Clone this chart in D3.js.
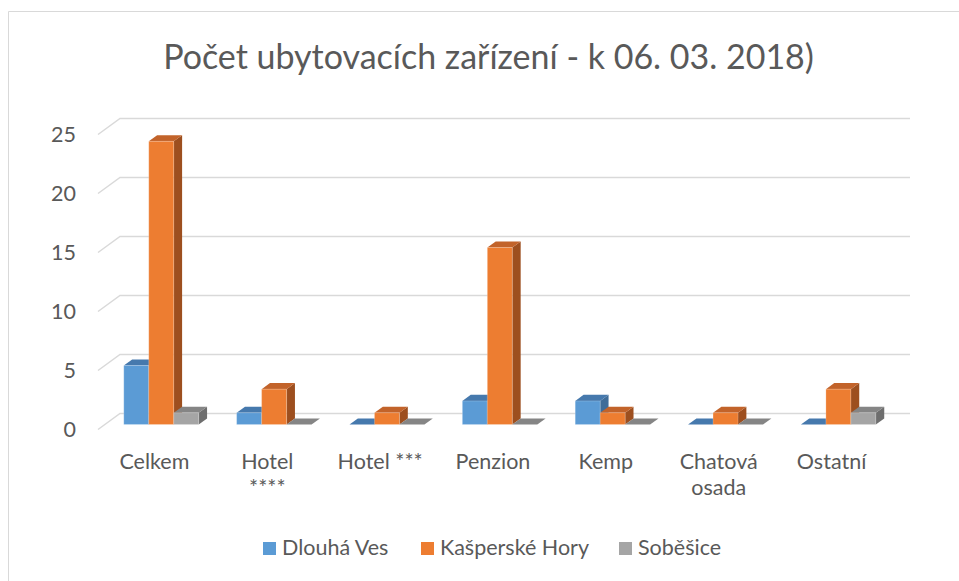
<!DOCTYPE html>
<html>
<head>
<meta charset="utf-8">
<script src="https://cdn.jsdelivr.net/npm/d3@7"></script>
<style>
  body { margin: 0; background: #fff; }
  text { font-family: Lato, "Open Sans", sans-serif; fill: #595959; }
</style>
</head>
<body>
<div id="chart"></div>
<script>
const categories = ["Celkem", "Hotel ****", "Hotel ***", "Penzion", "Kemp", "Chatová osada", "Ostatní"];
const categoryLines = [["Celkem"], ["Hotel", "****"], ["Hotel ***"], ["Penzion"], ["Kemp"], ["Chatová", "osada"], ["Ostatní"]];
const seriesNames = ["Dlouhá Ves", "Kašperské Hory", "Soběšice"];
const dlouhaVes = [5, 1, 0, 2, 2, 0, 0];
const kasperskeHory = [24, 3, 1, 15, 1, 1, 3];
const sobesice = [1, 0, 0, 0, 0, 0, 1];
const yTicks = [0, 5, 10, 15, 20, 25];
const title = "Počet ubytovacích zařízení - k 06. 03. 2018)";

const width = 959, height = 581;
const colors = ["#5B9BD5", "#ED7D31", "#A5A5A5"];
const tops = ["#4679ad", "#c2632a", "#858585"];
const sides = ["#3f6d99", "#9d4f1f", "#6e6e6e"];

// floor front edge starts at (98, 429.5); depth runs to back wall (+22, -16)
const x0 = 98, yFloor = 429.5, depthX = 22, depthY = -16;
const barD0 = 0.31, barD1 = 0.69;

const svg = d3.select("#chart").append("svg")
    .attr("width", width)
    .attr("height", height);

// chart area border (top + left visible)
svg.append("path")
    .attr("d", "M8.5,581 L8.5,11.5 L959,11.5")
    .attr("fill", "none")
    .attr("stroke", "#d9d9d9")
    .attr("stroke-width", 1);

const x = d3.scaleBand()
    .domain(categories)
    .range([0, 790])
    .paddingInner(0.336)
    .paddingOuter(0.168);

const xs = d3.scaleBand()
    .domain(seriesNames)
    .range([0, x.bandwidth()]);

const y = d3.scaleLinear()
    .domain([0, 25])
    .range([0, 295]);

function pt(px, v, d) {
    return [x0 + px + d * depthX, yFloor - y(v) + d * depthY];
}

// fit font size so that a sample string gets the wanted width
function fitSize(sample, target) {
    const t = svg.append("text").attr("font-size", 100).text(sample);
    const w = t.node().getComputedTextLength();
    t.remove();
    return 100 * target / w;
}
const labelSize = fitSize("Kašperské Hory", 149);
const titleSize = fitSize(title, 651);

// back wall gridlines + left wall stubs
const grid = svg.append("g");
yTicks.forEach(function(v) {
    const f = pt(0, v, 0), b = pt(0, v, 1), e = pt(790, v, 1);
    grid.append("path")
        .attr("d", "M" + f + "L" + b + "L" + e)
        .attr("fill", "none")
        .attr("stroke", "#d9d9d9")
        .attr("stroke-width", 1.5);
});

// y labels
svg.append("g").selectAll("text")
    .data(yTicks)
    .enter().append("text")
    .attr("x", 76)
    .attr("y", function(d) { return pt(0, d, 0)[1] + labelSize * 0.36; })
    .attr("text-anchor", "end")
    .attr("font-size", labelSize)
    .text(function(d) { return d; });

// bars
const series = [dlouhaVes, kasperskeHory, sobesice];
const bars = svg.append("g");
categories.forEach(function(c, i) {
    series.forEach(function(vals, s) {
        const v = vals[i];
        const xl = x(c) + xs(seriesNames[s]);
        const xr = xl + xs.bandwidth();
        const g = bars.append("g");
        const poly = function(pts) { return "M" + pts.join("L") + "Z"; };
        if (v > 0) {
            g.append("path")
                .attr("d", poly([pt(xr, 0, barD0), pt(xr, 0, barD1), pt(xr, v, barD1), pt(xr, v, barD0)]))
                .attr("fill", sides[s]);
        }
        g.append("path")
            .attr("d", poly([pt(xl, v, barD0), pt(xr, v, barD0), pt(xr, v, barD1), pt(xl, v, barD1)]))
            .attr("fill", tops[s]);
        if (v > 0) {
            g.append("path")
                .attr("d", poly([pt(xl, 0, barD0), pt(xr, 0, barD0), pt(xr, v, barD0), pt(xl, v, barD0)]))
                .attr("fill", colors[s])
                .attr("stroke", "rgba(255,255,255,0.35)")
                .attr("stroke-width", 0.6);
        }
    });
});

// category labels
const labels = svg.append("g");
categories.forEach(function(c, i) {
    const cx = x0 + x(c) + x.bandwidth() / 2;
    const t = labels.append("text")
        .attr("text-anchor", "middle")
        .attr("font-size", labelSize);
    categoryLines[i].forEach(function(line, k) {
        t.append("tspan")
            .attr("x", cx)
            .attr("y", 469 + k * 26)
            .text(line);
    });
});

// title
svg.append("text")
    .attr("x", 488.5)
    .attr("y", 69)
    .attr("text-anchor", "middle")
    .attr("font-size", titleSize)
    .text(title);

// legend
const legendX = [263, 421, 619];
const legend = svg.append("g");
seriesNames.forEach(function(name, s) {
    legend.append("rect")
        .attr("x", legendX[s])
        .attr("y", 542)
        .attr("width", 13)
        .attr("height", 13)
        .attr("fill", colors[s]);
    legend.append("text")
        .attr("x", legendX[s] + 19)
        .attr("y", 555)
        .attr("font-size", labelSize)
        .text(name);
});
</script>
</body>
</html>
